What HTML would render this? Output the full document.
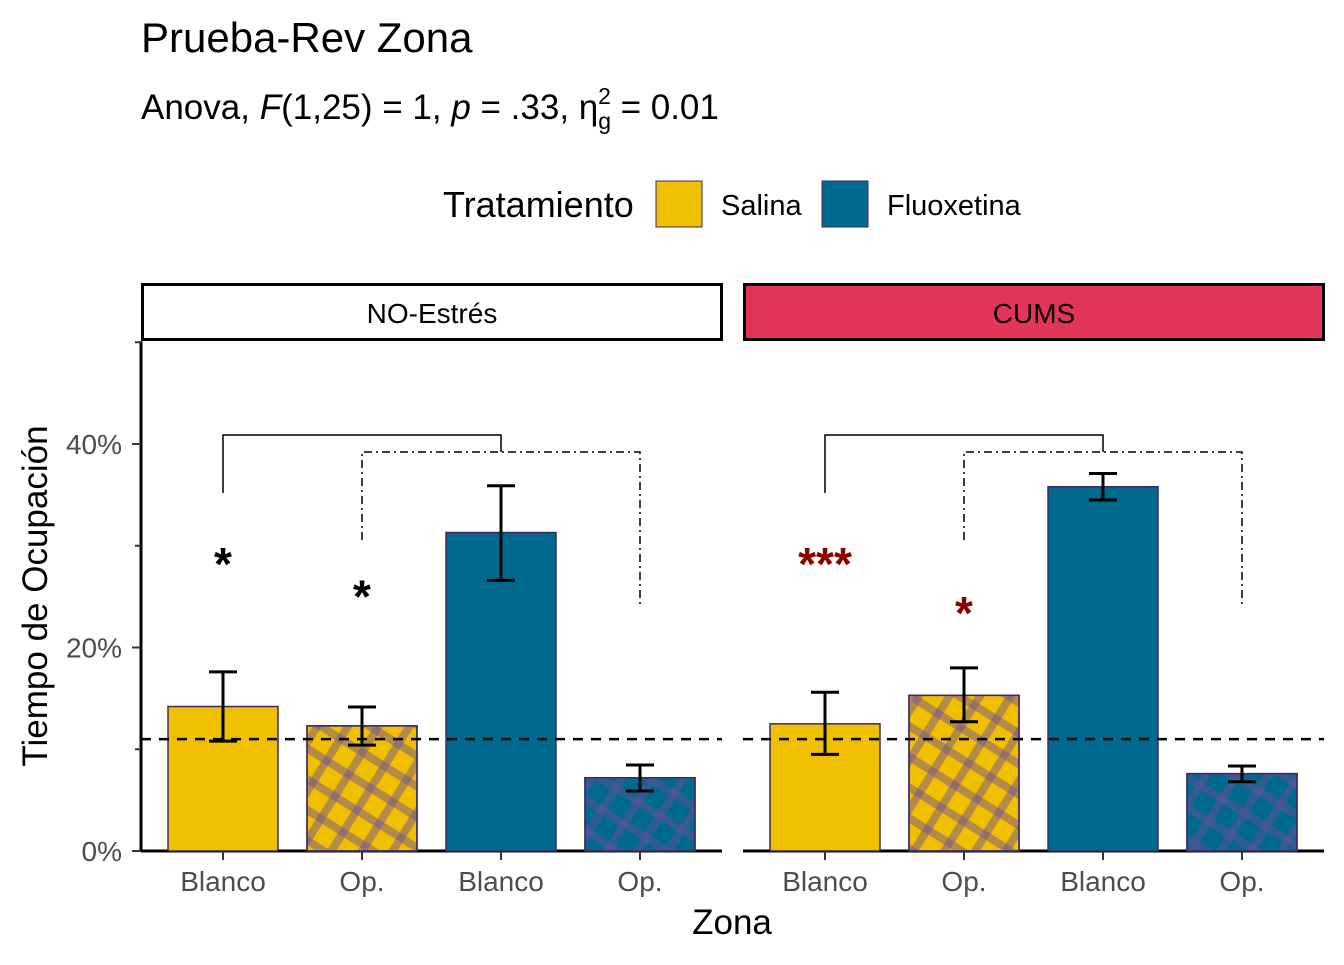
<!DOCTYPE html>
<html><head><meta charset="utf-8"><style>
body{margin:0;background:#fff;}
svg text{font-family:"Liberation Sans",sans-serif;}
</style></head><body>
<svg id="c" width="1344" height="960" xmlns="http://www.w3.org/2000/svg">
<defs>
<pattern id="hatch" patternUnits="userSpaceOnUse" width="26" height="26" patternTransform="rotate(32)">
<rect x="0" y="0" width="26" height="8" fill="#6a4c9c" fill-opacity="0.45"/>
<rect x="0" y="0" width="8" height="26" fill="#6a4c9c" fill-opacity="0.45"/>
</pattern>
</defs>
<text x="141" y="52" font-size="42">Prueba-Rev Zona</text>
<text x="141" y="119" font-size="35">Anova, <tspan font-style="italic">F</tspan>(1,25) = 1, <tspan font-style="italic">p</tspan> = .33, η<tspan font-size="23" dy="10">g</tspan><tspan font-size="23" dx="-13" dy="-25">2</tspan><tspan dy="15"> = 0.01</tspan></text>
<g>
<text x="443" y="217" font-size="36">Tratamiento</text>
<rect x="656" y="181" width="46" height="46" fill="#F0C000" stroke="#3b2a66"/>
<text x="721" y="215" font-size="29">Salina</text>
<rect x="822" y="181" width="46" height="46" fill="#006A8E" stroke="#3b2a66"/>
<text x="887" y="215" font-size="29">Fluoxetina</text>
</g>
<rect x="142.5" y="284.5" width="579" height="55" fill="#fff" stroke="#000" stroke-width="3"/>
<text x="432" y="323" font-size="28" text-anchor="middle">NO-Estrés</text>
<rect x="744.5" y="284.5" width="579" height="55" fill="#E3355A" stroke="#000" stroke-width="3"/>
<text x="1034" y="323" font-size="28" text-anchor="middle">CUMS</text>
<text transform="translate(47,596) rotate(-90)" font-size="35" text-anchor="middle">Tiempo de Ocupación</text>
<text x="732" y="934" font-size="35" text-anchor="middle">Zona</text>
<g id="plot"></g>
</svg>
<script>
const panels = ['NO-Estrés','CUMS'];
const zones = ['Blanco','Op.','Blanco','Op.'];
const treatments = ['Salina','Salina','Fluoxetina','Fluoxetina'];
const valuesNoEstres = [14.2, 12.3, 31.3, 7.2];
const lowNoEstres = [10.8, 10.4, 26.6, 5.9];
const highNoEstres = [17.6, 14.15, 35.9, 8.45];
const valuesCums = [12.5, 15.3, 35.8, 7.6];
const lowCums = [9.5, 12.7, 34.5, 6.8];
const highCums = [15.6, 18.0, 37.1, 8.35];
const refLine = 11.0;
const yTicks = [0, 20, 40];
const yTickLabels = ['0%','20%','40%'];
const yMinor = [10, 30, 50];
const starsNoEstres = ['*','*'];
const starsCums = ['***','*'];
const starY = [29.0, 25.8];
const starYCums = [29.0, 24.2];

const NS='http://www.w3.org/2000/svg';
const g=document.getElementById('plot');
function el(t,a,p){const e=document.createElementNS(NS,t);for(const k in a)e.setAttribute(k,a[k]);(p||g).appendChild(e);return e;}
const y=v=>851-v*10.175;
const panelX=[141,743];
const x=(p,i)=>panelX[p]+82+i*139;
const colors={Salina:'#F0C000',Fluoxetina:'#006A8E'};
const vals=[valuesNoEstres,valuesCums],lows=[lowNoEstres,lowCums],highs=[highNoEstres,highCums];
const stars=[starsNoEstres,starsCums],sy=[starY,starYCums],scol=['#000','#8B0000'];

let a=el('line',{x1:141,y1:y(50)-1,x2:141,y2:852,stroke:'#000','stroke-width':3});

yTicks.forEach((t,i)=>{
 let l=el('line',{x1:132,x2:141,y1:y(t),y2:y(t),stroke:'#333','stroke-width':2});
 
 let tx=el('text',{x:122,y:y(t)+10,'font-size':28,fill:'#4d4d4d','text-anchor':'end'});
 tx.textContent=yTickLabels[i];
 
});
yMinor.forEach(t=>{
 let l=el('line',{x1:135,x2:141,y1:y(t),y2:y(t),stroke:'#333','stroke-width':2});
 
});

for(let p=0;p<2;p++){
 let ax=el('line',{x1:panelX[p],x2:panelX[p]+581,y1:851,y2:851,stroke:'#000','stroke-width':3});
 
 for(let i=0;i<4;i++){
  const cx=x(p,i),v=vals[p][i],fill=colors[treatments[i]];
  let b=el('rect',{x:cx-55,y:y(v),width:110,height:851-y(v),fill:fill,stroke:'#3b2a66','stroke-width':1.5});
  
  if(i%2==1){let h=el('rect',{x:cx-55,y:y(v),width:110,height:851-y(v),fill:'url(#hatch)',stroke:'#3b2a66','stroke-width':1.5});
   }
  let e=el('path',{d:`M${cx-14},${y(highs[p][i])}H${cx+14}M${cx},${y(highs[p][i])}V${y(lows[p][i])}M${cx-14},${y(lows[p][i])}H${cx+14}`,stroke:'#000','stroke-width':3,fill:'none'});
  
  let tk=el('line',{x1:cx,x2:cx,y1:851,y2:860,stroke:'#333','stroke-width':2});
  
  let tl=el('text',{x:cx,y:891,'font-size':28,fill:'#4d4d4d','text-anchor':'middle'});
  tl.textContent=zones[i];
  
 }
 let rl=el('line',{x1:panelX[p],x2:panelX[p]+581,y1:y(refLine),y2:y(refLine),stroke:'#000','stroke-width':2.5,'stroke-dasharray':'10,8'});
 
 let b1=el('path',{d:`M${x(p,0)},493V435H${x(p,2)}V452`,stroke:'#000','stroke-width':1.5,fill:'none'});
 
 let b2=el('path',{d:`M${x(p,1)},540V452H${x(p,3)}V607`,stroke:'#000','stroke-width':1.5,fill:'none','stroke-dasharray':'8,4,2,4'});
 
 for(let k=0;k<2;k++){
  let s=el('text',{x:x(p,k),y:y(sy[p][k])+24,'font-size':46,'font-weight':'bold',fill:scol[p],'text-anchor':'middle'});
  s.textContent=stars[p][k];
  
 }
}
</script>
</body></html>
